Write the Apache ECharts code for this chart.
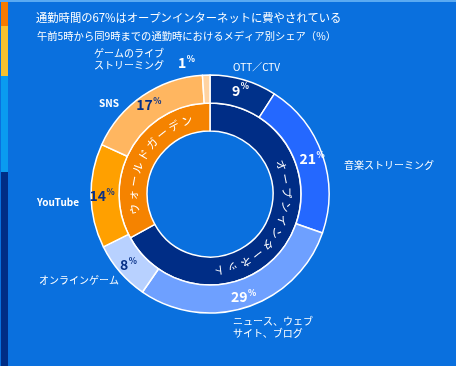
<!DOCTYPE html>
<html><head><meta charset="utf-8">
<script src="https://cdn.jsdelivr.net/npm/echarts@6/dist/echarts.min.js"></script>
<style>html,body{margin:0;padding:0;background:#0a70de}#c{width:456px;height:366px}</style>
</head><body><div id="c"></div>
<script>
// ---- data ----
const categories = ['OTT／CTV','音楽ストリーミング','ニュース、ウェブ\nサイト、ブログ','オンラインゲーム','YouTube','SNS','ゲームのライブ\nストリーミング'];
const shares = [9, 21, 29, 8, 14, 17, 1];
const groups = ['オープンインターネット', 'ウォールドガーデン'];
const groupShares = [67, 33];
const titleText = '通勤時間の67%はオープンインターネットに費やされている';
const subtitleText = '午前5時から同9時までの通勤時におけるメディア別シェア（%）';

// ---- style ----
const FONT = '"Noto Sans CJK JP", "Noto Sans", sans-serif';
const outerColors = ['#00318a','#2468ff','#6ea0ff','#b8d1ff','#ffa000','#ffb660','#ffd3a2'];
const pctColors = ['#fff','#fff','#fff','#062f86','#062f86','#062f86','#fff'];
const innerColors = ['#002d86','#f58300'];
const CX = 210, CY = 194, R0 = 63, R1 = 91, R2 = 119;
const namePos = [[233,67],[344,165],[233,327],[39,280],[37,202],[99,103],[94,59]];
const nameBold = [false,false,false,false,true,true,false];
const onePctPos = [178, 63];

const chart = echarts.init(document.getElementById('c'));

const graphics = [
  {type:'rect', shape:{x:0,y:0,width:456,height:2}, style:{fill:'#5aaaf2'}, z:1},
  {type:'rect', shape:{x:1,y:2,width:7,height:24}, style:{fill:'#f47a00'}, z:1},
  {type:'rect', shape:{x:1,y:26,width:7,height:50}, style:{fill:'#f8c12f'}, z:1},
  {type:'rect', shape:{x:1,y:76,width:7,height:96}, style:{fill:'#0a9bf0'}, z:1},
  {type:'rect', shape:{x:1,y:172,width:7,height:194}, style:{fill:'#002d86'}, z:1}
];
// curved text along the inner ring, derived from the group shares
const tot = groupShares.reduce((a,b)=>a+b,0);
let acc = 0;
groups.forEach((g, gi) => {
  const mid = (acc + groupShares[gi]/2) / tot * 360;
  acc += groupShares[gi];
  const chars = [...g];
  const step = 10.5, r = (R0 + R1) / 2;
  chars.forEach((ch, i) => {
    const th = (mid + (i - (chars.length - 1) / 2) * step) * Math.PI / 180;
    graphics.push({
      type:'text', x: CX + r*Math.sin(th), y: CY - r*Math.cos(th), rotation: -th, z: 100,
      style:{text: ch, fill:'#ffffff', fontSize: 11, fontFamily: FONT, align:'center', verticalAlign:'middle'}
    });
  });
});

const outerData = categories.map((c, i) => ({
  name: c, value: shares[i],
  itemStyle: {color: outerColors[i]},
  label: {color: pctColors[i]}
}));

chart.setOption({
  backgroundColor: '#0a70de',
  animation: false,
  title: [
    {text: titleText, left: 36, top: 12, padding: 0, textStyle:{color:'#fff', fontSize: 11.3, fontWeight:'normal', fontFamily: FONT}},
    {text: subtitleText, left: 37, top: 31, padding: 0, textStyle:{color:'#fff', fontSize: 10.3, fontWeight:'normal', fontFamily: FONT}}
  ],
  graphic: graphics,
  series: [
    {
      type:'pie', center:[CX, CY], radius:[R0, R1], startAngle: 90, clockwise: true, silent: true,
      itemStyle:{borderColor:'#fff', borderWidth:1.5},
      label:{show:false}, labelLine:{show:false},
      data: groups.map((g,i)=>({name:g, value:groupShares[i], itemStyle:{color:innerColors[i]}}))
    },
    {
      type:'pie', center:[CX, CY], radius:[R1, R2], startAngle: 90, clockwise: true, silent: true,
      itemStyle:{borderColor:'#fff', borderWidth:1.5},
      label:{show:true, position:'inside', fontFamily: FONT, overflow:'none',
        formatter: p => '{v|' + p.value + '}{s|%}',
        rich:{v:{fontSize:14, fontWeight:'bold', fontFamily: FONT, lineHeight: 17}, s:{fontSize:8.5, fontWeight:'bold', fontFamily: FONT, verticalAlign:'top', lineHeight: 17, padding:[0,0,0,0.5]}}
      },
      labelLine:{show:false},
      labelLayout: p => p.dataIndex === shares.length - 1 ? {x: onePctPos[0], y: onePctPos[1], align:'left', verticalAlign:'middle'} : {},
      data: outerData
    },
    {
      type:'pie', center:[CX, CY], radius:[R1, R2], startAngle: 90, clockwise: true, silent: true, z: 5,
      itemStyle:{color:'rgba(0,0,0,0)', borderWidth:0},
      label:{show:true, position:'outside', formatter:'{b}', color:'#fff', fontSize:10, lineHeight:12, fontFamily: FONT, overflow:'none', width: 200},
      labelLine:{show:false},
      labelLayout: p => ({x: namePos[p.dataIndex][0], y: namePos[p.dataIndex][1], align:'left', verticalAlign:'middle'}),
      data: categories.map((c,i)=>({name:c, value:shares[i], label:{fontWeight: nameBold[i] ? 'bold' : 'normal'}}))
    }
  ]
});
</script></body></html>
